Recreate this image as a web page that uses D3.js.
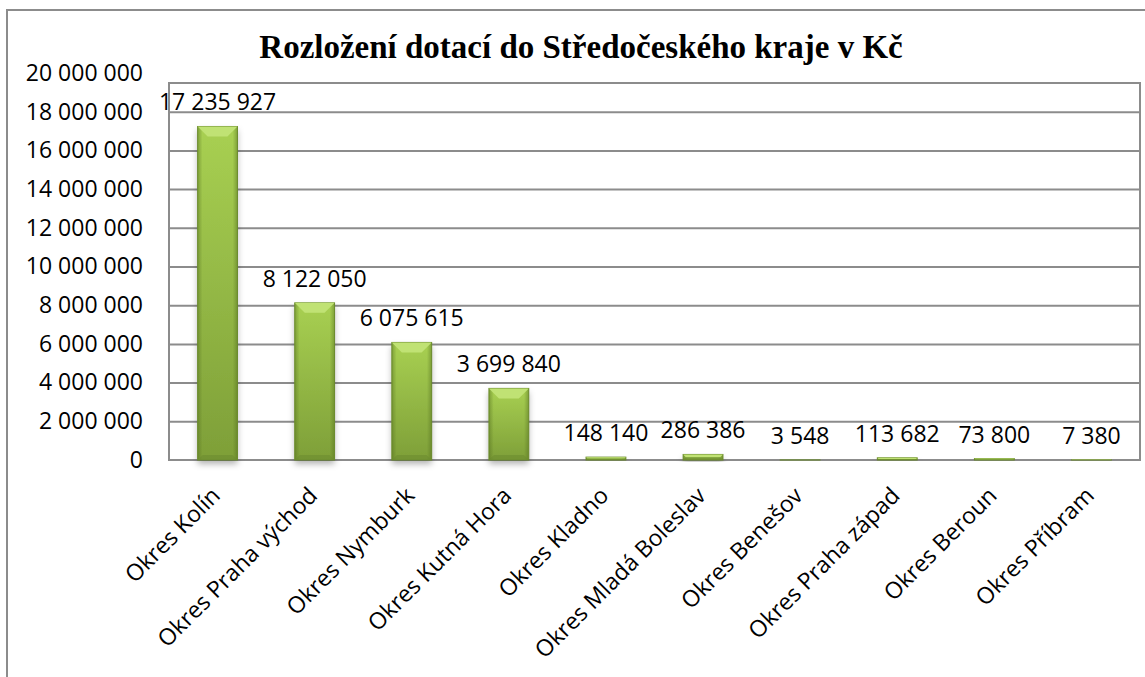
<!doctype html>
<html>
  <head>
    <meta charset="utf-8">
    <script src="https://d3js.org/d3.v7.min.js"></script>
    <style>
      body { margin: 0; background: #fff; }
      text { font-family: "Open Sans", sans-serif; fill: #000; }
      .tick text { font-size: 23px; }
      .grid line { stroke: #8c8c8c; stroke-width: 2; }
      .grid path { stroke-width: 0; }
      text.title { font-family: "Liberation Serif", serif; font-weight: bold; font-size: 33px; }
      text.value { font-size: 23px; }
      text.cat { font-size: 23px; }
    </style>
  </head>
  <body>
    <svg id="chart" width="1145" height="677"></svg>
    <script>
      var districts = ['Okres Kolín', 'Okres Praha východ', 'Okres Nymburk', 'Okres Kutná Hora',
        'Okres Kladno', 'Okres Mladá Boleslav', 'Okres Benešov', 'Okres Praha západ',
        'Okres Beroun', 'Okres Příbram'];
      var amounts = [17235927, 8122050, 6075615, 3699840, 148140, 286386, 3548, 113682, 73800, 7380];
      var yTicks = [0, 2000000, 4000000, 6000000, 8000000, 10000000, 12000000, 14000000,
        16000000, 18000000, 20000000];
      var chartTitle = 'Rozložení dotací do Středočeského kraje v Kč';

      var data = districts.map((d, i) => ({ name: d, value: amounts[i] }));

      var pLeft = 169, pRight = 1140, pTop = 83, pBottom = 460;
      var fmt = v => d3.format(',')(v).replace(/,/g, ' ');

      var svg = d3.select('svg');
      var defs = svg.append('defs');

      var grad = defs.append('linearGradient').attr('id', 'body')
        .attr('x1', 0).attr('y1', 0).attr('x2', 0).attr('y2', 1);
      grad.append('stop').attr('offset', '0%').attr('stop-color', '#a8d052');
      grad.append('stop').attr('offset', '100%').attr('stop-color', '#7e9f38');

      var side = defs.append('linearGradient').attr('id', 'side')
        .attr('x1', 0).attr('y1', 0).attr('x2', 1).attr('y2', 0);
      side.append('stop').attr('offset', '0%').attr('stop-color', '#4f6a1c').attr('stop-opacity', 0.45);
      side.append('stop').attr('offset', '12%').attr('stop-color', '#4f6a1c').attr('stop-opacity', 0);
      side.append('stop').attr('offset', '88%').attr('stop-color', '#4f6a1c').attr('stop-opacity', 0);
      side.append('stop').attr('offset', '100%').attr('stop-color', '#4f6a1c').attr('stop-opacity', 0.45);

      var shadow = defs.append('filter').attr('id', 'shadow')
        .attr('x', '-30%').attr('y', '-10%').attr('width', '160%').attr('height', '140%');
      shadow.append('feDropShadow').attr('dx', 0).attr('dy', 4).attr('stdDeviation', 3)
        .attr('flood-color', '#000').attr('flood-opacity', 0.3);

      // outer frame
      svg.append('rect')
        .attr('x', 7).attr('y', 10).attr('width', 1160).attr('height', 700)
        .attr('fill', 'none').attr('stroke', '#8c8c8c').attr('stroke-width', 2);

      svg.append('text').attr('class', 'title')
        .attr('x', 581).attr('y', 58).attr('text-anchor', 'middle')
        .text(chartTitle);

      var y = d3.scaleLinear().domain([0, 20000000]).range([pBottom, 73]);
      var x = d3.scaleBand().domain(districts).range([pLeft, pRight]).paddingInner(0.59).paddingOuter(0.295);

      // plot area frame and gridlines
      svg.append('g').attr('class', 'grid')
        .call(d3.axisLeft(y).tickValues(yTicks.filter(t => y(t) > pTop + 2 && t > 0))
          .tickSize(-(pRight - pLeft)).tickFormat(''))
        .attr('transform', `translate(${pLeft},0)`);

      svg.append('rect')
        .attr('x', pLeft).attr('y', pTop).attr('width', pRight - pLeft).attr('height', pBottom - pTop)
        .attr('fill', 'none').attr('stroke', '#8c8c8c').attr('stroke-width', 2);

      var yAxis = svg.append('g')
        .attr('transform', `translate(${pLeft},0)`)
        .call(d3.axisLeft(y).tickValues(yTicks).tickSize(0).tickPadding(26).tickFormat(fmt));
      yAxis.select('.domain').remove();

      var bars = svg.append('g').selectAll('g').data(data).enter().append('g');

      bars.append('rect')
        .attr('x', d => x(d.name))
        .attr('y', d => y(d.value))
        .attr('width', x.bandwidth())
        .attr('height', d => pBottom - y(d.value))
        .attr('fill', 'url(#body)')
        .attr('filter', 'url(#shadow)');

      bars.append('rect')
        .attr('x', d => x(d.name))
        .attr('y', d => y(d.value))
        .attr('width', x.bandwidth())
        .attr('height', d => pBottom - y(d.value))
        .attr('fill', 'url(#side)')
        .attr('stroke', '#6a8a2c').attr('stroke-width', 1);

      // top bevel
      bars.append('path')
        .attr('d', d => {
          var x0 = x(d.name), x1 = x0 + x.bandwidth(), t = y(d.value);
          var h = Math.min(10, (pBottom - t) / 2);
          return `M${x0},${t}L${x1},${t}L${x1 - h},${t + h}L${x0 + h},${t + h}Z`;
        })
        .attr('fill', '#c0e274');

      // bottom bevel
      bars.append('path')
        .attr('d', d => {
          var x0 = x(d.name), x1 = x0 + x.bandwidth(), t = y(d.value);
          var h = Math.min(5, (pBottom - t) / 2);
          return `M${x0},${pBottom}L${x1},${pBottom}L${x1 - h},${pBottom - h}L${x0 + h},${pBottom - h}Z`;
        })
        .attr('fill', '#6d8c30').attr('opacity', 0.6);

      bars.append('text').attr('class', 'value')
        .attr('x', d => x(d.name) + x.bandwidth() / 2)
        .attr('y', d => y(d.value) - 16)
        .attr('text-anchor', 'middle')
        .text(d => fmt(d.value));

      svg.append('g').selectAll('text').data(districts).enter().append('text')
        .attr('class', 'cat')
        .attr('text-anchor', 'end')
        .attr('transform', d => `translate(${x(d) + x.bandwidth() / 2 + 4},${pBottom + 37}) rotate(-45)`)
        .text(d => d);
    </script>
  </body>
</html>
